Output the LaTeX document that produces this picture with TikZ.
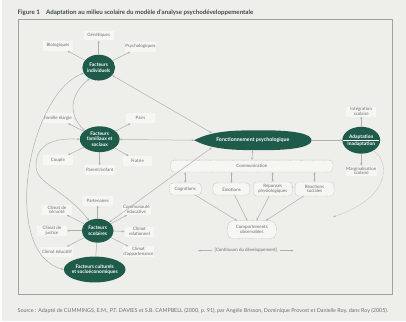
\documentclass[tikz,border=0pt]{standalone}
\usepackage{fontspec}
\setmainfont{Lato}
\usepackage{tikz}
\usetikzlibrary{positioning,arrows.meta,shapes.geometric}
\definecolor{cvert}{HTML}{1F5B4B}
\definecolor{cgris}{HTML}{6C716F}
\definecolor{cfond}{HTML}{EEEEEA}
\definecolor{cboite}{HTML}{F6F6F3}
\definecolor{clien}{HTML}{A9B3AE}
\definecolor{ccadre}{HTML}{97A79F}
\definecolor{ctitre}{HTML}{3E4A45}
\tikzset{
  facteur/.style={ellipse, fill=cvert, text=white, align=center, inner xsep=-6pt, inner ysep=-3pt,
    font=\fontsize{7}{7.8}\selectfont\bfseries},
  etq/.style={rectangle, fill=cboite, text=cgris, align=center, inner sep=1pt,
    minimum width=1.5cm, minimum height=0.5cm, font=\fontsize{6.4}{7}\selectfont},
  boite/.style={rectangle, rounded corners=5pt, draw=cgris!80, densely dotted, fill=cboite,
    text=cgris, align=center, inner sep=1pt, minimum height=0.6cm, font=\fontsize{6.4}{6.8}\selectfont},
  lien/.style={draw=clien, line width=0.7pt, -{Stealth[length=3.5pt,width=3pt]}},
  liend/.style={lien, {Stealth[length=3.5pt,width=3pt]}-{Stealth[length=3.5pt,width=3pt]}},
}

\begin{document}
\begin{tikzpicture}[x=0.05cm, y=-0.05cm]
  \fill[cfond] (0,0) rectangle (406,323);
  \draw[ccadre, line width=0.9pt] (16,19) rectangle (392,296);
  \node[anchor=west, text=ctitre, font=\fontsize{8.8}{9.5}\selectfont\bfseries] (titre) at (13,13)
    {Figure 1\quad Adaptation au milieu scolaire du modèle d’analyse psychodéveloppementale};
  \node[anchor=west, text=cgris, font=\fontsize{7.7}{8}\selectfont] (source) at (13,313)
    {Source : Adapté de CUMMINGS, E.M., P.T. DAVIES et S.B. CAMPBELL (2000, p. 91), par Angèle Brisson, Dominique Provost et Danielle Roy, dans Roy (2005).};

  \node[facteur, minimum width=1.65cm, minimum height=1.3cm] (ind) at (97,68) {Facteurs\\individuels};
  \node[etq, above=0.7cm of ind] (gen) {Génétiques};
  \node[etq] (bio) at (56,46) {Biologiques};
  \node[etq] (psy) at (139,47) {Psychologiques};

  \node[facteur, minimum width=2cm, minimum height=1.3cm] (fam) at (98,140) {Facteurs\\familiaux et\\sociaux};
  \node[etq] (elargie) at (56,119) {Famille élargie};
  \node[etq] (pairs) at (139,119) {Pairs};
  \node[etq] (couple) at (56,161) {Couple};
  \node[etq] (fratrie) at (136,162) {Fratrie};
  \node[etq, below=0.65cm of fam] (parent) {Parent/enfant};

  \node[facteur, minimum width=1.6cm, minimum height=1.2cm] (scol) at (96,232) {Facteurs\\scolaires};
  \node[etq, above=0.65cm of scol] (part) {Partenaires};
  \node[etq] (csec) at (55,211) {Climat de\\sécurité};
  \node[etq] (commu) at (135,211) {Communauté\\éducative};
  \node[etq] (cjus) at (50,232) {Climat de\\justice};
  \node[etq] (crel) at (138,233) {Climat\\relationnel};
  \node[etq] (cedu) at (55,253) {Climat éducatif};
  \node[etq] (capp) at (137,253) {Climat\\d’appartenance};

  \node[facteur, minimum width=3.1cm, minimum height=1.3cm] (cult) at (93,271) {Facteurs culturels\\et socioéconomiques};

  \fill[cvert] (193,141) .. controls (212,131) and (235,131) .. (262,131)
    .. controls (296,131) and (311,135) .. (311,141)
    .. controls (311,147) and (296,151) .. (262,151)
    .. controls (235,151) and (212,151) .. (193,141) -- cycle;
  \node[facteur, fill=none, minimum width=5.9cm, minimum height=1cm,
    font=\fontsize{7.5}{8}\selectfont\bfseries] (fonc) at (252,141) {Fonctionnement psychologique};

  \node[facteur, minimum width=1.9cm, minimum height=1.35cm] (adap) at (361,141) {Adaptation\\[2pt]Inadaptation};
  \draw[white, line width=0.6pt] ([xshift=1.5pt]adap.west) -- ([xshift=-1.5pt]adap.east);
  \node[etq, above=0.5cm of adap] (integ) {Intégration\\scolaire};
  \node[etq, below=0.6cm of adap] (marg) {Marginalisation\\scolaire};

  \node[boite, minimum width=8.15cm] (comu) at (251,167) {Communication};
  \node[boite, minimum width=1.6cm] (cog) at (184,190) {Cognitions};
  \node[boite, minimum width=1.85cm] (emo) at (230.5,190) {Émotions};
  \node[boite, minimum width=1.95cm, minimum height=0.7cm] (rep) at (272,190) {Réponses\\physiologiques};
  \node[boite, minimum width=1.95cm, minimum height=0.7cm] (rea) at (314,190) {Réactions\\sociales};
  \node[boite, minimum width=2.45cm, minimum height=0.9cm, rounded corners=8pt] (comp) at (251,231) {Comportements\\observables};

  \node[text=cgris, font=\fontsize{6.4}{7}\selectfont] (cont) at (245,252) {[Continuum du développement]};
  \coordinate (contg) at (197,252);
  \coordinate (contd) at (293,252);
  \coordinate (fin) at (333,218);

  \draw[lien] (ind) -- (gen);
  \draw[lien] (ind) -- (bio);
  \draw[lien] (ind) -- (psy);
  \draw[lien] (fam) -- (elargie);
  \draw[lien] (fam) -- (pairs);
  \draw[lien] (fam) -- (couple);
  \draw[lien] (fam) -- (fratrie);
  \draw[lien] (fam) -- (parent);
  \draw[lien] (scol) -- (part);
  \draw[lien] (scol) -- (csec);
  \draw[lien] (scol) -- (commu);
  \draw[lien] (scol) -- (cjus);
  \draw[lien] (scol) -- (crel);
  \draw[lien] (scol) -- (cedu);
  \draw[lien] (scol) -- (capp);
  \draw[clien, line width=0.7pt] (scol) -- (cult);

  \draw[liend] (ind.200) .. controls (25,95) and (-2,255) .. (cult.west);
  \draw[liend] (ind.230) .. controls (68,95) and (66,115) .. (fam.150);
  \draw[liend] (fam.west) .. controls (45,138) and (33,150) .. (34,168)
    .. controls (35,185) and (62,190) .. (scol.130);

  \draw[liend] (ind) -- (fonc.170);
  \draw[liend] (fam) -- (fonc.west);
  \draw[liend] (scol) -- (fonc.190);
  \draw[lien] (fonc) -- (adap);
  \draw[lien] (adap) -- (integ);
  \draw[lien] (adap) -- (marg);
  \draw[lien, densely dotted] (adap.-40) .. controls (392,165) and (388,200) .. (fin);

  \draw[liend] (fonc) -- (comu);
  \foreach \b in {cog,emo,rep,rea}{
    \draw[liend] (\b.north) -- (\b.north |- comu.south);
    \draw[lien] (\b) -- (comp);
  }
  \draw[lien] (cont) -- (contg);
  \draw[lien] (cont) -- (contd);
\end{tikzpicture}
\end{document}
